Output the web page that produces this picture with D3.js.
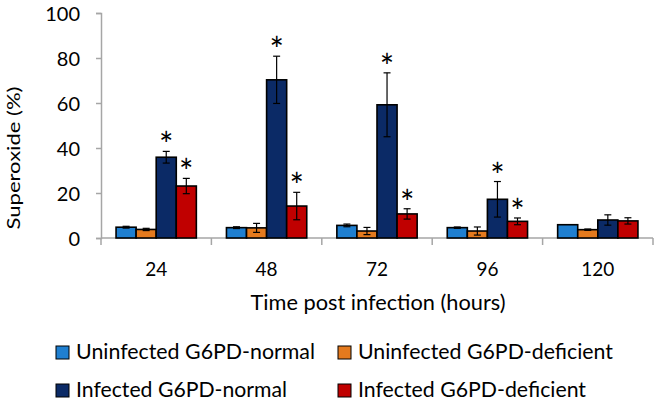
<!DOCTYPE html>
<html>
<head>
<meta charset="utf-8">
<script src="https://cdn.jsdelivr.net/npm/d3@7"></script>
<style>
  html, body { margin: 0; padding: 0; background: #fff; }
  svg text { font-family: "Lato", "Open Sans", sans-serif; fill: #000; }
</style>
</head>
<body>
<svg id="chart" width="658" height="402"></svg>
<script>
// ---- data ----
const categories = ["24", "48", "72", "96", "120"];
const seriesNames = ["Uninfected G6PD-normal", "Uninfected G6PD-deficient", "Infected G6PD-normal", "Infected G6PD-deficient"];
const uninfectedNormal    = [4.8, 4.6, 5.6, 4.6, 5.9];
const uninfectedDeficient = [3.8, 4.5, 3.1, 3.1, 3.7];
const infectedNormal      = [35.9, 70.3, 59.2, 17.2, 8.0];
const infectedDeficient   = [23.1, 14.2, 10.7, 7.4, 7.6];
const uninfectedNormalErr    = [0.4, 0.4, 0.6, 0.3, 0.0];
const uninfectedDeficientErr = [0.5, 2.0, 1.6, 1.8, 0.3];
const infectedNormalErr      = [2.6, 10.5, 14.2, 7.9, 2.3];
const infectedDeficientErr   = [3.4, 6.1, 2.3, 1.5, 1.4];
const infectedNormalSig      = [true, true, true, true, false];
const infectedDeficientSig   = [true, true, true, true, false];
const yTicks = [0, 20, 40, 60, 80, 100];
const colors = ["#1F7FD0", "#E47A1E", "#0B2A66", "#C00000"];
const yTitle = "Superoxide (%)";
const xTitle = "Time post infection (hours)";

const values = [uninfectedNormal, uninfectedDeficient, infectedNormal, infectedDeficient];
const errors = [uninfectedNormalErr, uninfectedDeficientErr, infectedNormalErr, infectedDeficientErr];
const sigs = [null, null, infectedNormalSig, infectedDeficientSig];

const svg = d3.select("#chart");
const x0 = 101, x1 = 653, yTop = 13, yBot = 238;

const x = d3.scaleBand().domain(categories).range([x0, x1]).paddingInner(0).paddingOuter(0);
const xs = d3.scaleBand().domain(d3.range(4)).range([0, x.bandwidth()]).paddingInner(0).paddingOuter(0.75);
const y = d3.scaleLinear().domain([0, 100]).range([yBot, yTop]);

const axisColor = "#a6a6a6";

// y axis
const yAxis = d3.axisLeft(y).tickValues(yTicks).tickSize(5).tickPadding(16);
const gy = svg.append("g").attr("transform", `translate(${x0},0)`).call(yAxis);
gy.select(".domain").attr("stroke", axisColor).attr("stroke-width", 1.5);
gy.selectAll(".tick line").attr("stroke", axisColor).attr("stroke-width", 1.5);
gy.selectAll(".tick text").style("font-size", "20px").attr("dy", "0.36em");

// x axis
const gx = svg.append("g").attr("transform", `translate(0,${yBot})`);
gx.append("line").attr("x1", x0).attr("x2", x1).attr("stroke", axisColor).attr("stroke-width", 1.5);
const bounds = categories.map(c => x(c)).concat([x1]);
gx.selectAll("line.tk").data(bounds).join("line").attr("class", "tk")
  .attr("x1", d => d).attr("x2", d => d).attr("y1", 0).attr("y2", 7)
  .attr("stroke", axisColor).attr("stroke-width", 1.5);
gx.selectAll("text.lbl").data(categories).join("text").attr("class", "lbl")
  .attr("x", d => x(d) + x.bandwidth() / 2).attr("y", 38)
  .attr("text-anchor", "middle").style("font-size", "19px").text(d => d);

// bars
const groups = svg.append("g").selectAll("g").data(categories).join("g")
  .attr("transform", d => `translate(${x(d)},0)`);

values.forEach((vals, si) => {
  groups.append("rect")
    .attr("x", (d, i) => xs(si))
    .attr("y", (d, i) => y(vals[i]))
    .attr("width", xs.bandwidth())
    .attr("height", (d, i) => y(0) - y(vals[i]))
    .attr("fill", colors[si])
    .attr("stroke", "#000").attr("stroke-width", 1.6);
});

// error bars
values.forEach((vals, si) => {
  const cx = xs(si) + xs.bandwidth() / 2;
  groups.each(function(d, i) {
    const g = d3.select(this);
    const e = errors[si][i];
    if (e <= 0) return;
    const hi = y(vals[i] + e), lo = y(vals[i] - e);
    g.append("line").attr("x1", cx).attr("x2", cx).attr("y1", hi).attr("y2", lo).attr("stroke", "#000").attr("stroke-width", 1.2);
    g.append("line").attr("x1", cx - 3.5).attr("x2", cx + 3.5).attr("y1", hi).attr("y2", hi).attr("stroke", "#000").attr("stroke-width", 1.2);
    g.append("line").attr("x1", cx - 3.5).attr("x2", cx + 3.5).attr("y1", lo).attr("y2", lo).attr("stroke", "#000").attr("stroke-width", 1.2);
  });
});

// significance asterisks
values.forEach((vals, si) => {
  if (!sigs[si]) return;
  const cx = xs(si) + xs.bandwidth() / 2;
  groups.each(function(d, i) {
    if (!sigs[si][i]) return;
    d3.select(this).append("text")
      .attr("x", cx).attr("y", y(vals[i] + errors[si][i]) + 6)
      .attr("text-anchor", "middle").style("font-size", "34px")
      .text("*");
  });
});

// axis titles
svg.append("text").attr("transform", `translate(20,158) rotate(-90)`)
  .attr("text-anchor", "middle").style("font-size", "18px")
  .attr("textLength", 143).attr("lengthAdjust", "spacingAndGlyphs").text(yTitle);
svg.append("text").attr("x", 378).attr("y", 310)
  .attr("text-anchor", "middle").style("font-size", "21px")
  .attr("textLength", 255).attr("lengthAdjust", "spacingAndGlyphs").text(xTitle);

// legend
const legPos = [[56, 359], [338, 359], [56, 397], [338, 397]];
const legWidths = [239, 255, 211, 228];
const leg = svg.append("g").selectAll("g").data(seriesNames).join("g")
  .attr("transform", (d, i) => `translate(${legPos[i][0]},${legPos[i][1]})`);
leg.append("rect").attr("x", 0).attr("y", -13).attr("width", 13).attr("height", 13)
  .attr("fill", (d, i) => colors[i]).attr("stroke", "#000").attr("stroke-width", 1);
leg.append("text").attr("x", 20).attr("y", 0).style("font-size", "21px")
  .attr("textLength", (d, i) => legWidths[i]).attr("lengthAdjust", "spacingAndGlyphs").text(d => d);
</script>
</body>
</html>
